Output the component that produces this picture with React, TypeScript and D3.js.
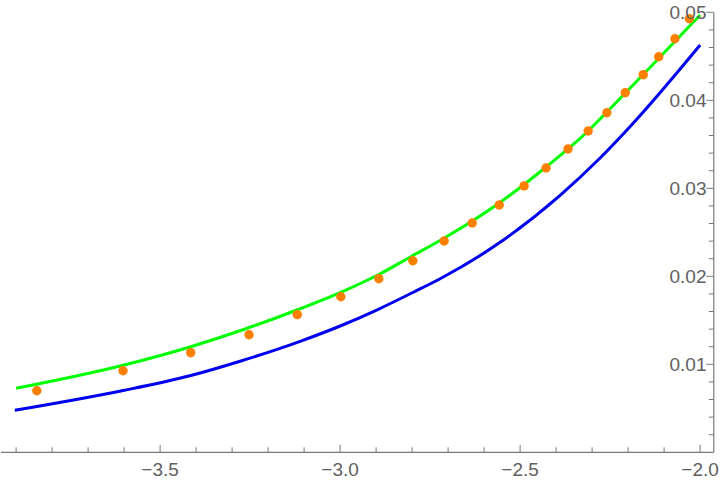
import React from "react";
import * as d3 from "d3";

// Green curve (model fit) sample points
const greenX = [-3.9, -3.6, -3.415, -3.28, -3.12, -3.0, -2.89, -2.8, -2.72, -2.633, -2.558, -2.489, -2.428, -2.367, -2.311, -2.278, -2.0];
const greenY = [0.00727, 0.00992, 0.0120, 0.01378, 0.01617, 0.01814, 0.02026, 0.02231, 0.02413, 0.02628, 0.02833, 0.03043, 0.03242, 0.03447, 0.03651, 0.03788, 0.0497];

// Blue curve sample points
const blueX = [-3.9036, -3.6028, -3.4147, -3.2778, -3.1111, -2.9981, -2.8925, -2.7981, -2.7222, -2.5556, -2.3889, -2.2778, -2.1778, -2.0];
const blueY = [0.00477, 0.00702, 0.00873, 0.01035, 0.01261, 0.01438, 0.01628, 0.01816, 0.01972, 0.02386, 0.0292, 0.03344, 0.03776, 0.04628];

// Orange data points
const dotX = [-3.8425, -3.603, -3.415, -3.253, -3.119, -2.998, -2.8925, -2.798, -2.711, -2.633, -2.558, -2.489, -2.428, -2.367, -2.311, -2.259, -2.208, -2.158, -2.115, -2.07, -2.03];
const dotY = [0.0070, 0.00927, 0.01132, 0.01336, 0.01564, 0.01768, 0.01973, 0.02177, 0.02401, 0.02606, 0.02810, 0.03027, 0.03231, 0.03447, 0.03651, 0.03859, 0.04086, 0.04291, 0.04495, 0.0470, 0.04927];

const xMajorTicks = [-3.5, -3.0, -2.5, -2.0];
const xTickLabels = ["\u22123.5", "\u22123.0", "\u22122.5", "\u22122.0"];
const yMajorTicks = [0.01, 0.02, 0.03, 0.04, 0.05];
const yTickLabels = ["0.01", "0.02", "0.03", "0.04", "0.05"];

const W = 720;
const H = 486;

export default function App() {
  const x = d3.scaleLinear().domain([-3.942, -1.962]).range([1, 713.8]);
  const y = d3.scaleLinear().domain([0, 0.05]).range([452.3, 12.3]);

  const line = d3
    .line<[number, number]>()
    .x((d) => x(d[0]))
    .y((d) => y(d[1]))
    .curve(d3.curveMonotoneX);

  const greenPts = greenX.map((v, i) => [v, greenY[i]] as [number, number]);
  const bluePts = blueX.map((v, i) => [v, blueY[i]] as [number, number]);

  const xMinor = d3.range(-39, -19).map((k) => k / 10).filter((v) => !xMajorTicks.some((m) => Math.abs(m - v) < 1e-6));
  const yMinor = d3.range(1, 25).map((k) => k * 0.002).filter((v) => !yMajorTicks.some((m) => Math.abs(m - v) < 1e-9));

  const axisColor = "#7a7a7a";
  const labelColor = "#606060";
  const font = "'Liberation Sans', Arial, Helvetica, sans-serif";
  const x0 = x(-1.962);
  const yAxisY = y(0);

  return (
    <svg width={W} height={H} style={{ position: "absolute", left: 0, top: 0, background: "#fff" }}>
      <path d={line(greenPts) || ""} fill="none" stroke="#00ff00" strokeWidth={3} />
      <path d={line(bluePts) || ""} fill="none" stroke="#0000ee" strokeWidth={3} />
      {dotX.map((v, i) => (
        <circle key={i} cx={x(v)} cy={y(dotY[i])} r={4.7} fill="#ff8000" />
      ))}
      {/* x axis */}
      <line x1={x(-3.942)} x2={x0} y1={yAxisY} y2={yAxisY} stroke={axisColor} strokeWidth={1.2} />
      {xMinor.map((v, i) => (
        <line key={"xm" + i} x1={x(v)} x2={x(v)} y1={yAxisY} y2={yAxisY - 5} stroke={axisColor} strokeWidth={1} />
      ))}
      {xMajorTicks.map((v, i) => (
        <g key={"xM" + i}>
          <line x1={x(v)} x2={x(v)} y1={yAxisY} y2={yAxisY - 7.5} stroke={axisColor} strokeWidth={1} />
          <text x={x(v)} y={475.5} textAnchor="middle" fontFamily={font} fontSize={19} fill={labelColor}>
            {xTickLabels[i]}
          </text>
        </g>
      ))}
      {/* y axis */}
      <line x1={x0} x2={x0} y1={y(0.05)} y2={yAxisY} stroke={axisColor} strokeWidth={1.2} />
      {yMinor.map((v, i) => (
        <line key={"ym" + i} x1={x0} x2={x0 - 5} y1={y(v)} y2={y(v)} stroke={axisColor} strokeWidth={1} />
      ))}
      {yMajorTicks.map((v, i) => (
        <g key={"yM" + i}>
          <line x1={x0} x2={x0 - 7.5} y1={y(v)} y2={y(v)} stroke={axisColor} strokeWidth={1} />
          <text x={706.5} y={y(v) + 6.8} textAnchor="end" fontFamily={font} fontSize={19} fill={labelColor}>
            {yTickLabels[i]}
          </text>
        </g>
      ))}
    </svg>
  );
}
